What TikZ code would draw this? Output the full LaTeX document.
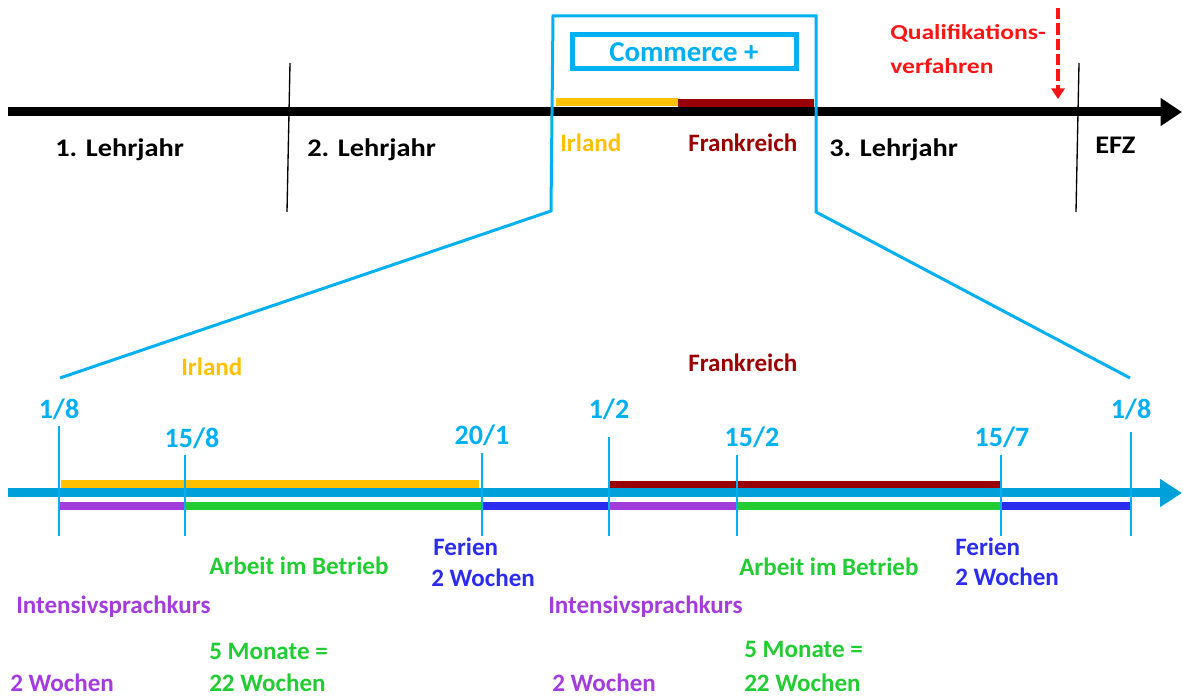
\documentclass[tikz,border=0pt]{standalone}
\usepackage{fontspec}
\setmainfont{Carlito}
\newfontfamily\breitfont[FakeStretch=1.12]{Carlito}
\newfontfamily\qvfont[FakeStretch=1.2]{Carlito}
\usepackage{tikz}
\usetikzlibrary{arrows.meta,positioning}
\definecolor{cpblue}{RGB}{0,176,240}
\definecolor{axisblue}{RGB}{0,160,218}
\definecolor{irlgelb}{RGB}{255,192,0}
\definecolor{frarot}{RGB}{153,0,0}
\definecolor{kurslila}{RGB}{163,60,220}
\definecolor{arbgruen}{RGB}{34,204,51}
\definecolor{ferblau}{RGB}{44,44,240}
\definecolor{qvrot}{RGB}{255,20,20}

\begin{document}
\begin{tikzpicture}[x=0.75pt,y=-0.75pt]
                \tikzstyle{every node}+=[inner sep=0pt]
                \tikzstyle{txt}=[font=\fontsize{18.8}{22}\selectfont\bfseries,anchor=west]
                \tikzstyle{jahr}=[txt,font=\breitfont\fontsize{19}{22}\selectfont\bfseries]
                \tikzstyle{datum}=[txt,anchor=center,text=cpblue,font=\fontsize{21}{24}\selectfont\bfseries]
                \tikzstyle{bar}=[line width=6pt]
                \tikzstyle{tick}=[cpblue,line width=1.1pt]
                \useasboundingbox (0,0) rectangle (1183,698);
                % oben: Lehrjahre
                \coordinate (a0) at (8,112);
                \coordinate (a1) at (1182,112);
                \draw [black,line width=6.75pt,-{Triangle[length=16pt,width=20pt]}] (a0) -- (a1);
                \coordinate (s1o) at (290,63);
                \coordinate (s1u) at (287,212);
                \coordinate (s2o) at (1079,63);
                \coordinate (s2u) at (1076,212);
                \draw [black,line width=1pt] (s1o) -- (s1u);
                \draw [black,line width=1pt] (s2o) -- (s2u);
                \node [jahr] (lj1) at (55,150) {1. Lehrjahr};
                \node [jahr] (lj2) at (307,150) {2. Lehrjahr};
                \node [jahr] (lj3) at (829,150) {3. Lehrjahr};
                \node [jahr] (efz) at (1095,145) {EFZ};
                % Qualifikationsverfahren
                \node [txt,text=qvrot,font=\qvfont\fontsize{16}{19}\selectfont\bfseries] (qv1) at (890,33) {Qualifikations-};
                \node [txt,text=qvrot,font=\qvfont\fontsize{16}{19}\selectfont\bfseries] (qv2) at (890,66) {verfahren};
                \coordinate (qo) at (1058,8);
                \coordinate (qu) at (1058,99);
                \draw [qvrot,line width=3pt,dash pattern=on 8.5pt off 3pt,-{Triangle[length=8pt,width=10pt]}] (qo) -- (qu);
                % Commerce +
                \draw [bar,irlgelb] (556,102) -- (678,102);
                \draw [bar,frarot] (678,103) -- (814,103);
                \node [txt,text=irlgelb] (irl1) at (560,143) {Irland};
                \node [txt,text=frarot] (fra1) at (688,143) {Frankreich};
                \node [draw=cpblue,line width=3.75pt,minimum width=168pt,minimum height=25.5pt,
                       text=cpblue,font=\fontsize{21.6}{25}\selectfont\bfseries] (cp) at (684,52) {Commerce +};
                \coordinate (zl) at (60,378);
                \coordinate (fl) at (551,211);
                \coordinate (flo) at (553,16);
                \coordinate (fro) at (816,16);
                \coordinate (fr) at (816,212);
                \coordinate (zr) at (1130,378);
                \draw [cpblue,line width=2.25pt] (zl) -- (fl) -- (flo) -- (fro) -- (fr) -- (zr);
                % unten: Zeitachse
                \node [txt,text=irlgelb] (irl2) at (181,367) {Irland};
                \node [txt,text=frarot] (fra2) at (688,363) {Frankreich};
                \coordinate (b0) at (8,493);
                \coordinate (b1) at (1182,493);
                \draw [bar,irlgelb] (61,484) -- (479,484);
                \draw [bar,frarot] (609,485) -- (1002,485);
                \draw [axisblue,line width=6.75pt,-{Triangle[length=16.5pt,width=20pt]}] (b0) -- (b1);
                \draw [bar,kurslila] (59,506) -- (185,506);
                \draw [bar,arbgruen] (185,506) -- (482,506);
                \draw [bar,ferblau] (482,506) -- (609,506);
                \draw [bar,kurslila] (609,506) -- (737,506);
                \draw [bar,arbgruen] (737,506) -- (1001,506);
                \draw [bar,ferblau] (1001,506) -- (1131,506);
                \foreach \n/\x/\t in {t1/59/426, t2/185/455, t3/482/453, t4/609/437, t5/737/455, t6/1001/455, t7/1131/432}{
                  \coordinate (\n o) at (\x,\t);
                  \coordinate (\n u) at (\x,536);
                  \draw [tick] (\n o) -- (\n u);
                }
                \node [datum] (d1) at (59,409) {1/8};
                \node [datum] (d2) at (192,438) {15/8};
                \node [datum] (d3) at (482,435) {20/1};
                \node [datum] (d4) at (609,409) {1/2};
                \node [datum] (d5) at (752,437) {15/2};
                \node [datum] (d6) at (1002,437) {15/7};
                \node [datum] (d7) at (1131,409) {1/8};
                % Beschriftung Irland
                \node [txt,text=ferblau] (fe1) at (433,547) {Ferien};
                \node [txt,text=ferblau] (fw1) at (431,578) {2 Wochen};
                \node [txt,text=arbgruen] (ar1) at (209,566) {Arbeit im Betrieb};
                \node [txt,text=kurslila] (ik1) at (16,607) {Intensivsprachkurs};
                \node [txt,text=arbgruen] (mo1) at (209,651) {5 Monate =};
                \node [txt,text=arbgruen] (aw1) at (209,683) {22 Wochen};
                \node [txt,text=kurslila] (kw1) at (10,683) {2 Wochen};
                % Beschriftung Frankreich
                \node [txt,text=ferblau] (fe2) at (955,547) {Ferien};
                \node [txt,text=ferblau] (fw2) at (955,577) {2 Wochen};
                \node [txt,text=arbgruen] (ar2) at (739,567) {Arbeit im Betrieb};
                \node [txt,text=kurslila] (ik2) at (548,607) {Intensivsprachkurs};
                \node [txt,text=arbgruen] (mo2) at (744,649) {5 Monate =};
                \node [txt,text=arbgruen] (aw2) at (744,683) {22 Wochen};
                \node [txt,text=kurslila] (kw2) at (552,683) {2 Wochen};
            \end{tikzpicture}
\end{document}
